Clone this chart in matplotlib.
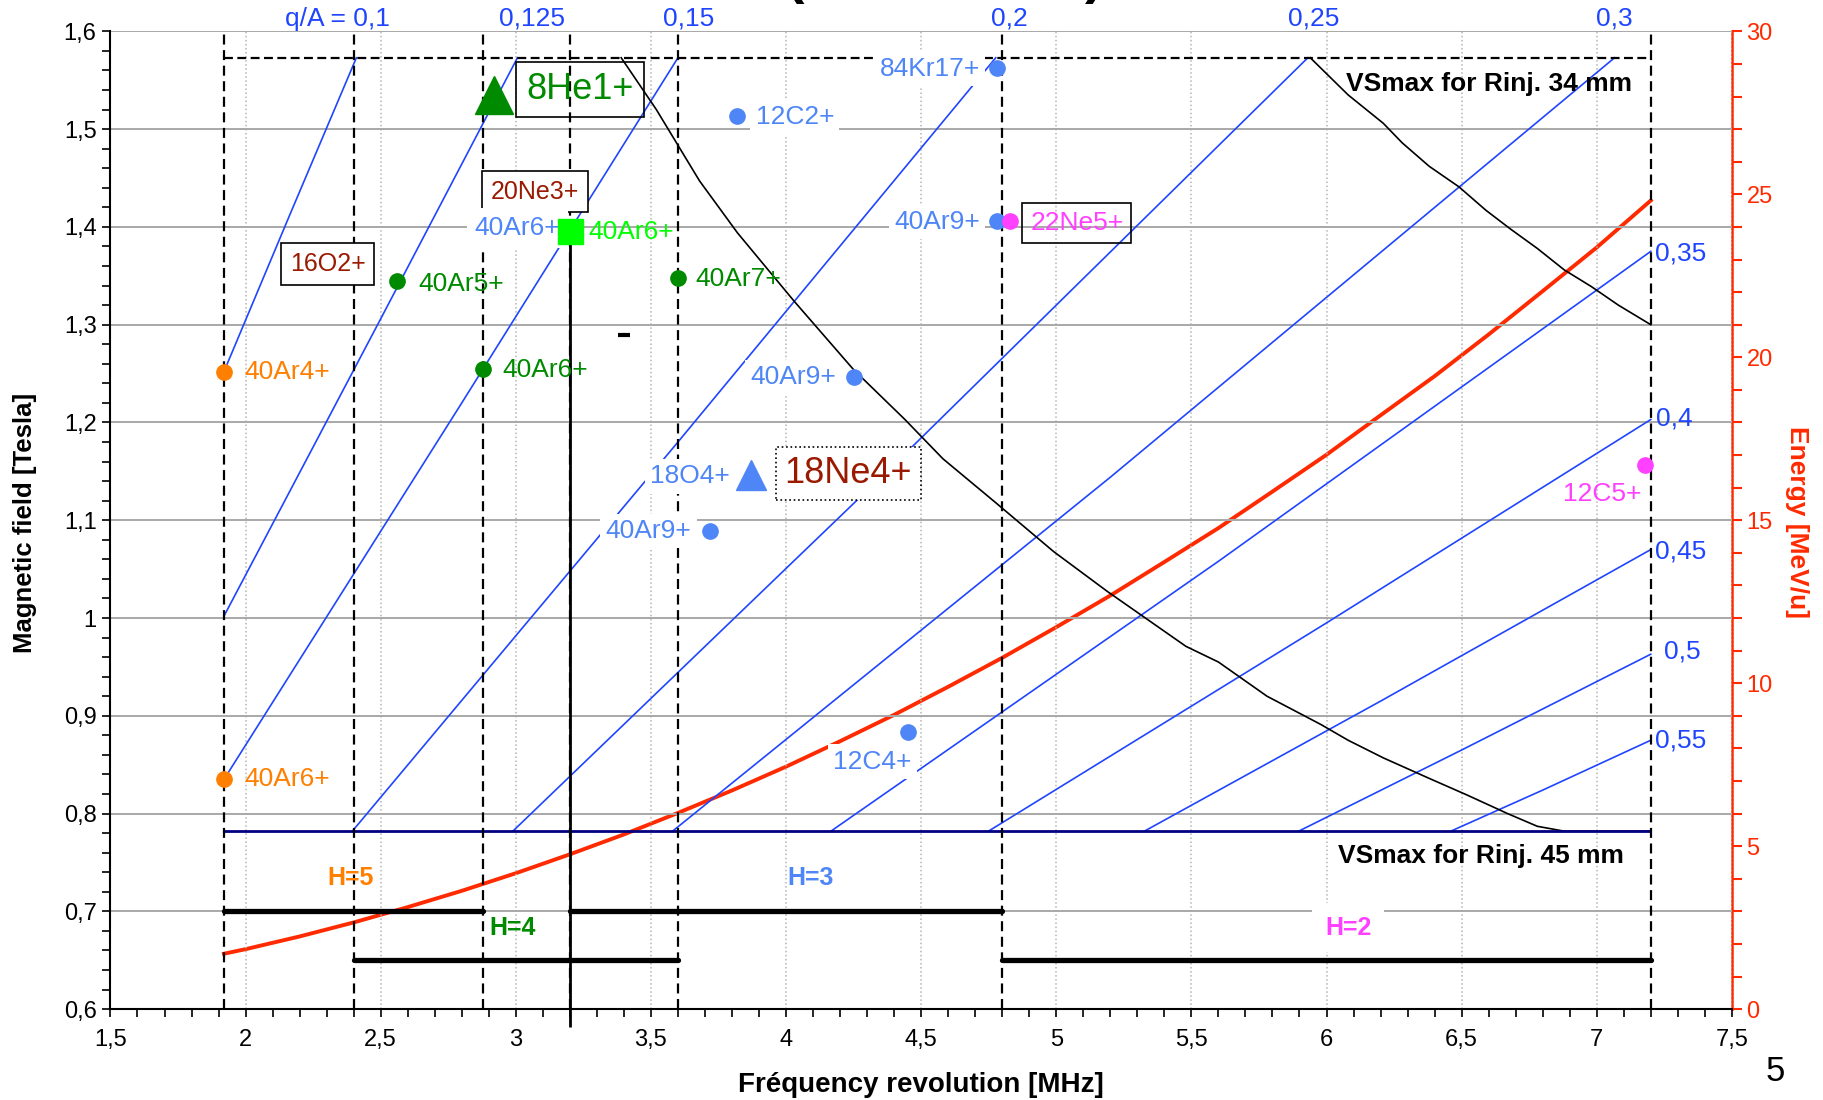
import matplotlib
matplotlib.use('Agg')
import matplotlib.pyplot as plt
from matplotlib.ticker import MultipleLocator, FuncFormatter

plt.rcParams['font.family'] = ['Liberation Sans', 'DejaVu Sans']

# --- data --------------------------------------------------------------
# iso q/A lines: revolution frequency [MHz] vs magnetic field [T]
qa_values = [0.1, 0.125, 0.15, 0.2, 0.25, 0.3, 0.35, 0.4, 0.45, 0.5, 0.55]
qa_freq = [
    [1.92, 2.16, 2.41],
    [1.92, 2.50, 3.006],
    [1.92, 2.80, 3.60],
    [2.395, 3.60, 4.776],
    [2.989, 4.40, 5.931],
    [3.58, 5.20, 7.066],
    [4.166, 5.60, 7.20],
    [4.749, 6.00, 7.20],
    [5.326, 6.20, 7.20],
    [5.897, 6.50, 7.20],
    [6.46, 6.80, 7.20],
]
qa_field = [
    [1.252, 1.410, 1.573],
    [1.002, 1.306, 1.573],
    [0.835, 1.220, 1.573],
    [0.782, 1.180, 1.573],
    [0.782, 1.157, 1.573],
    [0.782, 1.144, 1.573],
    [0.782, 1.058, 1.375],
    [0.782, 0.995, 1.203],
    [0.782, 0.915, 1.070],
    [0.782, 0.865, 0.963],
    [0.782, 0.824, 0.875],
]

# extraction energy [MeV/u]
energy_freq = [1.92, 2.0, 2.2, 2.4, 2.6, 2.8, 3.0, 3.2, 3.4, 3.6, 3.8, 4.0, 4.2, 4.4,
               4.6, 4.8, 5.0, 5.2, 5.4, 5.6, 5.8, 6.0, 6.2, 6.4, 6.6, 6.8, 7.0, 7.2]
energy = [1.70, 1.84, 2.23, 2.66, 3.13, 3.63, 4.17, 4.75, 5.36, 6.02, 6.71, 7.44, 8.22, 9.03,
          9.89, 10.78, 11.72, 12.69, 13.72, 14.76, 15.88, 17.01, 18.22, 19.42, 20.70, 22.03,
          23.37, 24.81]

# limit curves (black)
limit1_freq = [3.39, 3.52, 3.68, 3.82, 4.03, 4.25, 4.44, 4.58, 4.78, 4.99, 5.19, 5.48, 5.60,
               5.78, 5.98, 6.08, 6.21, 6.38, 6.52, 6.67, 6.78, 6.88, 7.2]
limit1_field = [1.573, 1.520, 1.447, 1.394, 1.324, 1.254, 1.203, 1.163, 1.117, 1.068, 1.027,
                0.971, 0.955, 0.920, 0.891, 0.875, 0.857, 0.836, 0.819, 0.800, 0.787, 0.782, 0.782]
limit2_freq = [5.94, 6.08, 6.21, 6.28, 6.38, 6.49, 6.59, 6.68, 6.78, 6.88, 6.98, 7.08, 7.2]
limit2_field = [1.573, 1.535, 1.506, 1.486, 1.462, 1.441, 1.417, 1.398, 1.378, 1.356, 1.339,
                1.320, 1.300]

vs_max_34 = 1.573
vs_max_45 = 0.782
freq_min, freq_max = 1.92, 7.2
rf_limits = [1.92, 2.4, 2.88, 3.2, 3.6, 4.8, 7.2]

harm_names = ['H=5', 'H=4', 'H=3', 'H=2']
harm_fmin = [1.92, 2.4, 3.2, 4.8]
harm_fmax = [2.88, 3.6, 4.8, 7.2]

ion_names = ['40Ar4+', '40Ar6+', '8He1+', '40Ar6+', '40Ar5+', '40Ar7+', '40Ar6+', '12C2+',
             '84Kr17+', '40Ar9+', '22Ne5+', '40Ar9+', '18O4+', '40Ar9+', '12C4+', '12C5+']
ion_freq = [1.92, 1.92, 2.92, 3.2, 2.56, 3.6, 2.88, 3.82, 4.78, 4.78, 4.83, 4.25, 3.87, 3.72,
            4.45, 7.18]
ion_field = [1.252, 0.835, 1.535, 1.396, 1.345, 1.348, 1.255, 1.513, 1.563, 1.406, 1.406,
             1.247, 1.146, 1.089, 0.883, 1.157]

# --- styles / layout ------------------------------------------------------
BLUE = '#1f45ff'
LBLUE = '#4f86f7'
GREEN = '#008a00'
LGREEN = '#00ff00'
ORANGE = '#ff7f00'
MAGENTA = '#ff40ff'
DRED = '#991a00'
RED = '#ff2a00'

# colour, marker, size, label x, label y, ha, white box
ion_style = [
    (ORANGE, 'o', 11, 1.995, 1.2516, 'left', False),
    (ORANGE, 'o', 11, 1.995, 0.8354, 'left', False),
    (GREEN, '^', 27, None, None, None, False),
    (LGREEN, 's', 18, 3.268, 1.395, 'left', False),
    (GREEN, 'o', 11, 2.64, 1.342, 'left', False),
    (GREEN, 'o', 11, 3.663, 1.347, 'left', False),
    (GREEN, 'o', 11, 2.949, 1.254, 'left', False),
    (LBLUE, 'o', 11, 3.887, 1.512, 'left', True),
    (LBLUE, 'o', 11, 4.717, 1.562, 'right', True),
    (LBLUE, 'o', 11, 4.717, 1.405, 'right', True),
    (MAGENTA, 'o', 11, None, None, None, False),
    (LBLUE, 'o', 11, 4.184, 1.246, 'right', True),
    (LBLUE, '^', 22, 3.792, 1.145, 'right', True),
    (LBLUE, 'o', 11, 3.65, 1.089, 'right', True),
    (LBLUE, 'o', 11, 4.32, 0.853, 'center', True),
    (MAGENTA, 'o', 11, 7.165, 1.127, 'right', False),
]
harm_colors = [ORANGE, GREEN, LBLUE, MAGENTA]
harm_band_y = [0.70, 0.65, 0.70, 0.65]
harm_label_x = [2.39, 2.988, 4.089, 6.08]
harm_label_y = [0.7344, 0.6832, 0.7344, 0.6832]

LABEL_FS = 19

fig = plt.figure(figsize=(18.23, 11.0), dpi=100)
ax = fig.add_axes([0.0606, 0.0826, 0.8894, 0.8889])
ax2 = ax.twinx()
ax.set_zorder(2)
ax2.set_zorder(1)
ax.patch.set_visible(False)
ax2.patch.set_visible(True)
ax2.patch.set_facecolor('white')

ax.set_xlim(1.5, 7.5)
ax.set_ylim(0.6, 1.6)
ax2.set_ylim(0, 30)

comma = FuncFormatter(lambda v, p: ('%g' % round(v, 3)).replace('.', ','))
ax.xaxis.set_major_locator(MultipleLocator(0.5))
ax.xaxis.set_minor_locator(MultipleLocator(0.1))
ax.yaxis.set_major_locator(MultipleLocator(0.1))
ax.yaxis.set_minor_locator(MultipleLocator(0.02))
ax.xaxis.set_major_formatter(comma)
ax.yaxis.set_major_formatter(comma)
ax2.yaxis.set_major_locator(MultipleLocator(5))
ax2.yaxis.set_minor_locator(MultipleLocator(1))

ax.tick_params(which='both', direction='out', length=6, width=1.2, labelsize=17)
ax.tick_params(axis='x', pad=8)
ax.tick_params(axis='y', pad=4)
ax2.tick_params(which='both', direction='out', length=7, width=1.5, colors=RED, labelsize=17)

for s in ['top', 'right']:
    ax.spines[s].set_visible(False)
for s in ['top', 'left', 'bottom']:
    ax2.spines[s].set_visible(False)
ax2.spines['right'].set_color(RED)
ax2.spines['right'].set_linewidth(1.8)
ax.spines['left'].set_linewidth(1.5)
ax.spines['bottom'].set_linewidth(1.5)

ax.set_axisbelow(True)
ax.yaxis.grid(True, color='#a8a8a8', lw=1.4)
ax.xaxis.grid(True, color='#b4b4b4', ls=':', lw=1.1)

# energy curve
ax2.plot(energy_freq, energy, color=RED, lw=2.8)

# q/A lines
for qa, fr, bf in zip(qa_values, qa_freq, qa_field):
    ax.plot(fr, bf, color=BLUE, lw=1.2, zorder=3)

# limit curves
ax.plot(limit1_freq, limit1_field, color='black', lw=1.2, zorder=3)
ax.plot(limit2_freq, limit2_field, color='black', lw=1.2, zorder=3)

# VS max lines
ax.hlines(vs_max_34, freq_min, freq_max, colors='black', lw=1.6,
          linestyles=(0, (4, 2)), zorder=3)
ax.hlines(vs_max_45, freq_min, freq_max, colors='#000080', lw=2.0, zorder=3)

# RF limits
for f in rf_limits:
    ax.vlines(f, 0.6, 1.6, colors='black', lw=1.6, linestyles=(0, (4.5, 2.5)), zorder=3)
ax.vlines(3.2, 0.582, 1.39, colors='black', lw=2.0, zorder=3, clip_on=False)

# harmonic bands
for name, f0, f1, c, by, lx, ly in zip(harm_names, harm_fmin, harm_fmax, harm_colors,
                                       harm_band_y, harm_label_x, harm_label_y):
    ax.plot([f0, f1], [by, by], color='black', lw=3.8, solid_capstyle='round', zorder=4)
    box = dict(boxstyle='square,pad=0.5', fc='white', ec='none') if name == 'H=2' else None
    ax.text(lx, ly, name, color=c, fontsize=18, fontweight='bold', ha='center',
            va='center', zorder=5, bbox=box)

# q/A labels
top_x = [2.339, 3.061, 3.638, 4.825, 5.952, 7.066]
for qa, x in zip(qa_values[:6], top_x):
    t = ('%g' % qa).replace('.', ',')
    if qa == 0.1:
        t = 'q/A = ' + t
    ax.text(x, 1.613, t, color=BLUE, fontsize=19, ha='center', va='center', clip_on=False)
right_y = [1.373, 1.204, 1.068, 0.966, 0.875]
right_x = [7.216, 7.22, 7.216, 7.25, 7.216]
for qa, x, y in zip(qa_values[6:], right_x, right_y):
    ax.text(x, y, ('%g' % qa).replace('.', ','), color=BLUE, fontsize=19,
            ha='left', va='center')

# boxes without marker
ax.text(2.304, 1.362, '16O2+', color=DRED, fontsize=18, ha='center', va='center', zorder=6,
        bbox=dict(boxstyle='square,pad=0.35', fc='white', ec='black', lw=1.2))
ax.text(3.07, 1.436, '20Ne3+', color=DRED, fontsize=18, ha='center', va='center', zorder=6,
        bbox=dict(boxstyle='square,pad=0.35', fc='white', ec='black', lw=1.2))
ax.text(3.165, 1.399, '40Ar6+', color=LBLUE, fontsize=LABEL_FS, ha='right', va='center',
        zorder=7, bbox=dict(boxstyle='square,pad=0.3', fc='white', ec='none'))
ax.text(3.238, 1.5405, '8He1+', color=GREEN, fontsize=26, ha='center', va='center', zorder=6,
        bbox=dict(boxstyle='square,pad=0.28', fc='none', ec='black', lw=1.2))
ax.text(4.231, 1.148, '18Ne4+', color=DRED, fontsize=26, ha='center', va='center', zorder=6,
        bbox=dict(boxstyle='square,pad=0.25', fc='white', ec='black', lw=1.2, ls=':'))
ax.text(5.076, 1.404, '22Ne5+', color=MAGENTA, fontsize=LABEL_FS, ha='center', va='center',
        zorder=6, bbox=dict(boxstyle='square,pad=0.3', fc='none', ec='black', lw=1.2))

# ions
for name, f, b, st in zip(ion_names, ion_freq, ion_field, ion_style):
    c, m, ms, lx, ly, ha, wbox = st
    ax.plot(f, b, marker=m, color=c, ms=ms, ls='none', zorder=8, clip_on=False)
    if lx is None:
        continue
    box = dict(boxstyle='square,pad=0.2', fc='white', ec='none') if wbox else None
    ax.text(lx, ly, name, color=c, fontsize=LABEL_FS, ha=ha, va='center', zorder=7, bbox=box)

ax.plot(3.40, 1.289, marker='_', color='black', ms=8, mew=3, zorder=8)

ax.text(7.13, 1.5465, 'VSmax for Rinj. 34 mm', fontsize=19, fontweight='bold',
        ha='right', va='center', zorder=6)
ax.text(7.10, 0.757, 'VSmax for Rinj. 45 mm', fontsize=19, fontweight='bold',
        ha='right', va='center', zorder=6)

fig.text(0.5053, 0.0136, 'Fréquency revolution [MHz]', fontsize=20, fontweight='bold',
         ha='center', va='center')
fig.text(0.0135, 0.5245, 'Magnetic field [Tesla]', fontsize=18.5, fontweight='bold',
         ha='center', va='center', rotation=90)
fig.text(0.9855, 0.5255, 'Energy [MeV/u]', fontsize=19, fontweight='bold', color=RED,
         ha='center', va='center', rotation=-90)
fig.text(0.974, 0.026, '5', fontsize=25, ha='center', va='center')

# bits of the cropped title
fig.text(0.436, 1.007, '(', fontsize=40, fontweight='bold', ha='center', va='baseline')
fig.text(0.6, 1.007, ')', fontsize=40, fontweight='bold', ha='center', va='baseline')

fig.savefig('out.png', dpi=100)
